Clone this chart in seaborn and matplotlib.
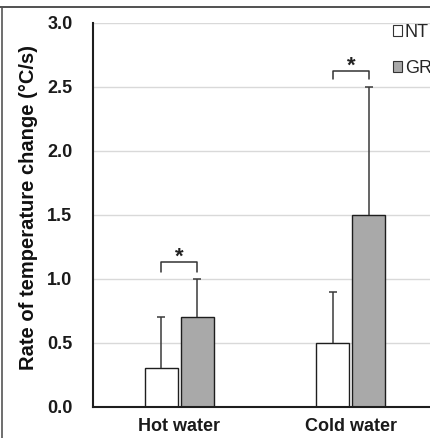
import numpy as np
import pandas as pd
import matplotlib
matplotlib.use("Agg")
import matplotlib.pyplot as plt
from matplotlib.lines import Line2D
import seaborn as sns

# ---- data ----
conditions = ["Hot water", "Cold water"]
groups = ["NT", "GR"]
nt_mean = [0.3, 0.5]
gr_mean = [0.7, 1.5]
nt_sd = [0.4, 0.4]
gr_sd = [0.3, 1.0]
y_ticks = [0.0, 0.5, 1.0, 1.5, 2.0, 2.5, 3.0]
y_label = "Rate of temperature change (°C/s)"
sig_marks = ["*", "*"]

# significance bracket levels (data units)
bracket_top = [1.13, 2.625]
bracket_leg = [1.055, 2.56]
star_base = [1.125, 2.62]

df = pd.DataFrame({
    "condition": conditions * 2,
    "group": [groups[0]] * len(conditions) + [groups[1]] * len(conditions),
    "rate": nt_mean + gr_mean,
})

sns.set_style("white")
plt.rcParams["font.family"] = ["Liberation Sans", "DejaVu Sans"]

W, H = 430, 438
fig = plt.figure(figsize=(W / 100, H / 100), dpi=100)
ax_left = 93.3 / W
ax_bottom = 1 - 406.7 / H
ax_h = (406.7 - 22.7) / H
ax_w = 343.4 / W
ax = fig.add_axes([ax_left, ax_bottom, ax_w, ax_h])

sns.barplot(data=df, x="condition", y="rate", hue="group", order=conditions,
            hue_order=groups, palette={"NT": "white", "GR": "#a9a9a9"},
            edgecolor="#1e1e1e", linewidth=1.0, width=0.42, gap=0.08,
            errorbar=None, legend=False, ax=ax)

# error bars (upper only)
sds = [nt_sd, gr_sd]
centers = []
for cont, sd in zip(ax.containers, sds):
    xs = [b.get_x() + b.get_width() / 2 for b in cont]
    ys = [b.get_height() for b in cont]
    centers.append(xs)
    eb = ax.errorbar(xs, ys, yerr=[[0] * len(sd), sd], fmt="none", ecolor="#3a3a3a",
                     elinewidth=1.1, capsize=2.6, capthick=1.1, zorder=3)
    caps = eb[1]
    if len(caps) == 2:
        caps[0].set_visible(False)

# significance brackets
for j in range(len(conditions)):
    x1, x2 = centers[0][j], centers[1][j]
    ax.plot([x1, x1, x2, x2], [bracket_leg[j], bracket_top[j], bracket_top[j], bracket_leg[j]],
            color="#333333", lw=1.1, zorder=4)
    ax.text((x1 + x2) / 2, star_base[j], sig_marks[j], ha="center", va="baseline",
            fontsize=16, fontweight="bold", color="#222222")

ax.set_xlim(-0.5, 1.5)
ax.set_ylim(0, 3.0)
ax.set_yticks(y_ticks)
ax.set_yticklabels([f"{v:.1f}" for v in y_ticks])
ax.yaxis.grid(True, color="#d9d9d9", lw=1.0)
ax.set_axisbelow(True)
ax.set_xlabel("")
ax.set_ylabel(y_label, fontsize=14.5, fontweight="bold", color="#111111")
ax.yaxis.set_label_coords((29 - 93.3) / 343.4, 0.52)
ax.yaxis.label.set_va("center")

for lab in ax.get_yticklabels():
    lab.set_fontweight("bold")
    lab.set_fontsize(13)
for lab in ax.get_xticklabels():
    lab.set_fontweight("bold")
    lab.set_fontsize(13)
ax.tick_params(axis="y", length=0, pad=15, colors="#1a1a1a")
ax.tick_params(axis="x", length=0, pad=8, colors="#1a1a1a")

for s in ["top", "right"]:
    ax.spines[s].set_visible(False)
for s in ["left", "bottom"]:
    ax.spines[s].set_color("#1e1e1e")
    ax.spines[s].set_linewidth(1.5)

# legend
handles = [c[0] for c in ax.containers]
leg = ax.legend(handles, groups, loc="upper left",
                bbox_to_anchor=(393 / W, 1 - 24 / H), bbox_transform=fig.transFigure,
                frameon=False, fontsize=13, handlelength=0.5, handleheight=0.5,
                handletextpad=0.15, labelspacing=1.05, borderpad=0, borderaxespad=0)
for h in leg.legend_handles:
    h.set_edgecolor("#333333")
    h.set_linewidth(0.8)

# outer frame lines (cropped figure border)
fig.add_artist(Line2D([0, 1], [1 - 6.5 / H] * 2, transform=fig.transFigure,
                      color="#333333", lw=1.2))
fig.add_artist(Line2D([1.5 / W] * 2, [0, 1 - 6.5 / H], transform=fig.transFigure,
                      color="#555555", lw=1.2))

fig.savefig("out.png", dpi=100)
